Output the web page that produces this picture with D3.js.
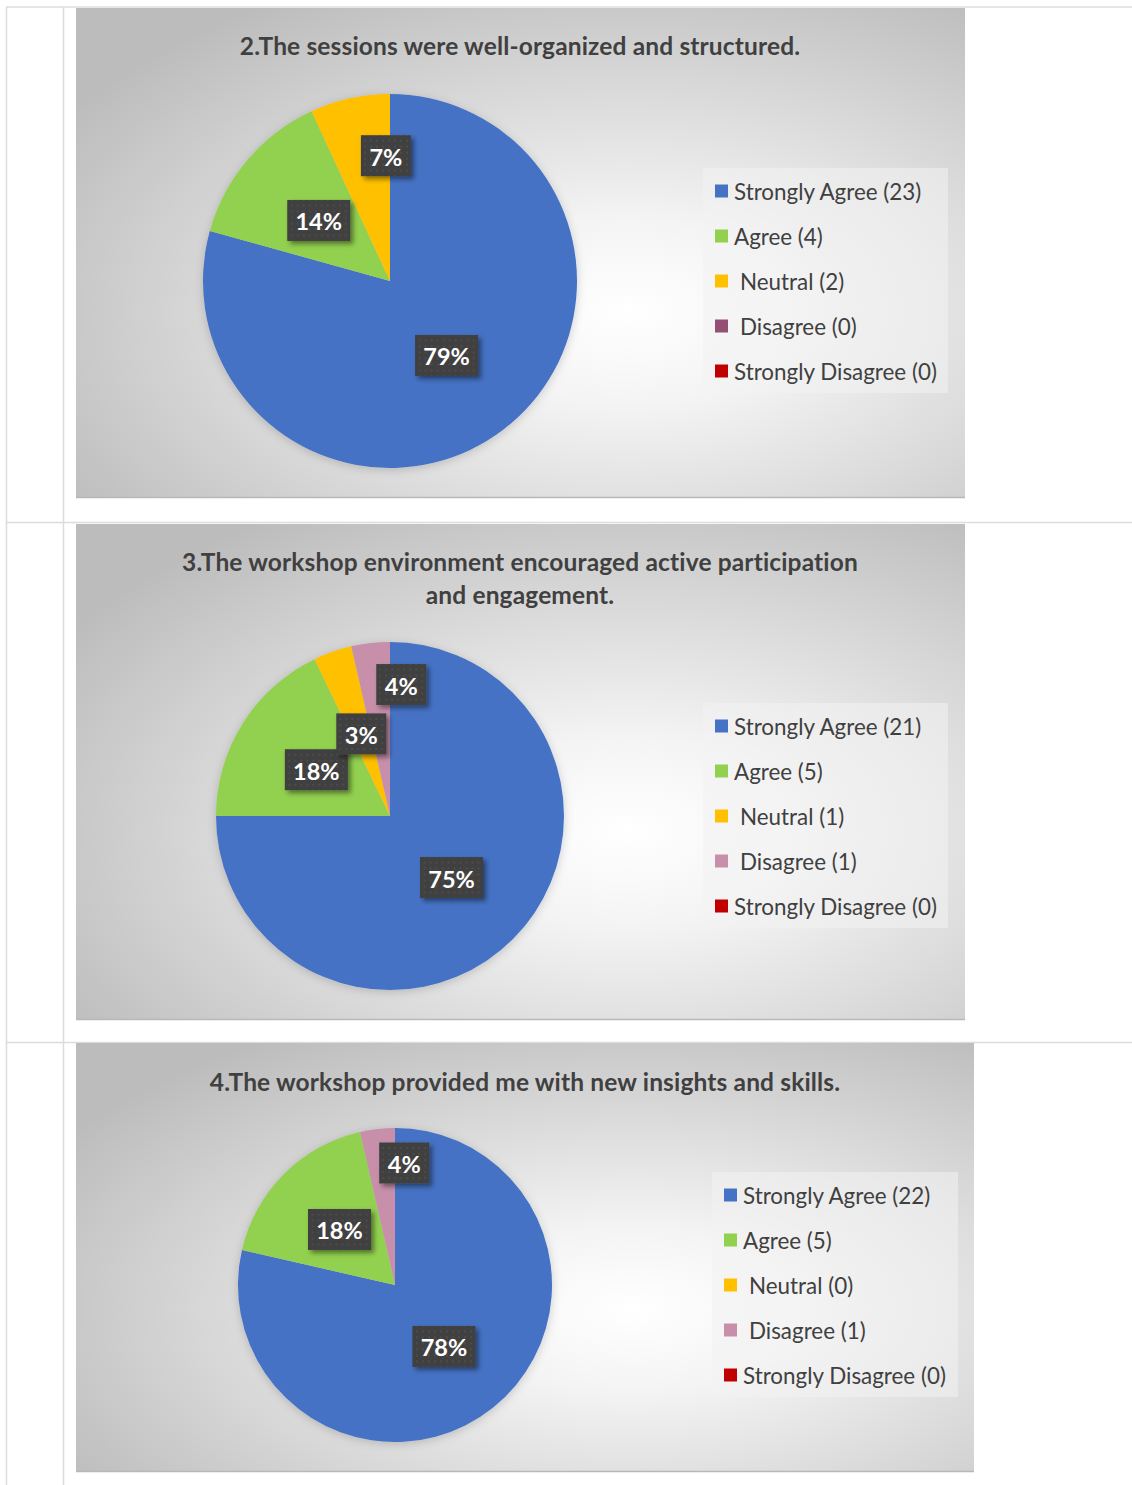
<!DOCTYPE html>
<html><head><meta charset="utf-8">
<script src="https://cdn.jsdelivr.net/npm/d3@7"></script>
<style>
html,body{margin:0;padding:0;background:#fff;}
svg{display:block;font-family:Lato, "Open Sans", sans-serif;}
</style></head>
<body>
<script>
// ---------- DATA ----------
const categories = ["Strongly Agree", "Agree", "Neutral", "Disagree", "Strongly Disagree"];
const titles = [
  ["2.The sessions were well-organized and structured."],
  ["3.The workshop environment encouraged active participation", "and engagement."],
  ["4.The workshop provided me with new insights and skills."]
];
const counts1 = [23, 4, 2, 0, 0];
const counts2 = [21, 5, 1, 1, 0];
const counts3 = [22, 5, 0, 1, 0];
const pctLabels1 = ["79%", "14%", "7%", "", ""];
const pctLabels2 = ["75%", "18%", "3%", "4%", ""];
const pctLabels3 = ["78%", "18%", "", "4%", ""];
const colors1 = ["#4472C4", "#92D050", "#FFC000", "#954F72", "#C00000"];
const colors23 = ["#4472C4", "#92D050", "#FFC000", "#C78FAA", "#C00000"];

// ---------- LAYOUT ----------
const W = 1132, H = 1485;
const panels = [
  {counts: counts1, labels: pctLabels1, colors: colors1, title: titles[0],
   box: {x: 76, y: 8, w: 889, h: 490}, cx: 390, cy: 281, r: 187, titleY: 45, titleX: 520,
   legend: {x: 703, y: 168, w: 245, h: 225}, nudge: {2: [16, -34]}},
  {counts: counts2, labels: pctLabels2, colors: colors23, title: titles[1],
   box: {x: 76, y: 524, w: 889, h: 496}, cx: 390, cy: 816, r: 174, titleY: 561, titleX: 520,
   legend: {x: 703, y: 703, w: 245, h: 225}, nudge: {3: [21, -45]}},
  {counts: counts3, labels: pctLabels3, colors: colors23, title: titles[2],
   box: {x: 76, y: 1043, w: 898, h: 429}, cx: 395, cy: 1285, r: 157, titleY: 1081, titleX: 525,
   legend: {x: 712, y: 1172, w: 246, h: 225}, nudge: {3: [18, -44]}}
];

const svg = d3.select("body").append("svg").attr("width", W).attr("height", H);
const defs = svg.append("defs");

const rg = defs.append("radialGradient").attr("id", "bg")
  .attr("cx", "0.62").attr("cy", "0.62").attr("r", "0.75").attr("fx", "0.62").attr("fy", "0.62");
rg.append("stop").attr("offset", "0").attr("stop-color", "#ffffff");
rg.append("stop").attr("offset", "0.25").attr("stop-color", "#f4f4f4");
rg.append("stop").attr("offset", "1").attr("stop-color", "#bcbcbc");

const pat = defs.append("pattern").attr("id", "dots").attr("patternUnits", "userSpaceOnUse")
  .attr("width", 6).attr("height", 6);
pat.append("rect").attr("width", 6).attr("height", 6).attr("fill", "#404040");
pat.append("rect").attr("x", 2).attr("y", 2).attr("width", 2).attr("height", 2).attr("fill", "#4c4c4c");

const sh = defs.append("filter").attr("id", "shadow").attr("x", "-30%").attr("y", "-30%").attr("width", "160%").attr("height", "160%");
sh.append("feDropShadow").attr("dx", 3).attr("dy", 3).attr("stdDeviation", 2.5).attr("flood-color", "#000").attr("flood-opacity", 0.45);
const psh = defs.append("filter").attr("id", "pieShadow").attr("x", "-20%").attr("y", "-20%").attr("width", "140%").attr("height", "140%");
psh.append("feDropShadow").attr("dx", 0).attr("dy", 2).attr("stdDeviation", 5).attr("flood-color", "#000").attr("flood-opacity", 0.18);

// table grid lines
const grid = svg.append("g").attr("stroke", "#dcdcdc").attr("stroke-width", 1.5);
[6.5, 63.5].forEach(x => grid.append("line").attr("x1", x).attr("x2", x).attr("y1", 7).attr("y2", H));
[7, 522.5, 1042.5].forEach(y => grid.append("line").attr("x1", 6).attr("x2", W).attr("y1", y).attr("y2", y));

const pie = d3.pie().sort(null).value(d => d).startAngle(0).endAngle(2 * Math.PI);

panels.forEach(p => {
  const g = svg.append("g");
  g.append("rect").attr("x", p.box.x).attr("y", p.box.y).attr("width", p.box.w).attr("height", p.box.h)
    .attr("fill", "url(#bg)");
  g.append("line").attr("x1", p.box.x).attr("x2", p.box.x + p.box.w)
    .attr("y1", p.box.y + p.box.h - 0.5).attr("y2", p.box.y + p.box.h - 0.5)
    .attr("stroke", "#b8b8b8").attr("stroke-width", 1.5);

  // title
  p.title.forEach((line, i) => {
    g.append("text").attr("x", p.titleX).attr("y", p.titleY + i * 33)
      .attr("text-anchor", "middle").attr("dominant-baseline", "central")
      .attr("font-size", 24.5).attr("letter-spacing", 0.15).attr("font-weight", "bold").attr("fill", "#404040")
      .text(line);
  });

  // pie
  const arcs = pie(p.counts);
  const arc = d3.arc().innerRadius(0).outerRadius(p.r);
  const lblArc = d3.arc().innerRadius(p.r * 0.5).outerRadius(p.r * 0.5);
  const pg = g.append("g").attr("transform", `translate(${p.cx},${p.cy})`);
  pg.append("g").attr("filter", "url(#pieShadow)")
    .selectAll("path").data(arcs.filter(a => a.value > 0)).join("path")
    .attr("d", arc).attr("fill", a => p.colors[a.index]);

  arcs.forEach(a => {
    if (!p.labels[a.index] || a.value <= 0) return;
    const c = lblArc.centroid(a);
    const n = p.nudge[a.index] || [0, 0];
    const x = c[0] + n[0], y = c[1] + n[1];
    const txt = p.labels[a.index];
    const bw = txt.length === 2 ? 50 : 63, bh = 41;
    const lg = pg.append("g").attr("transform", `translate(${x},${y})`);
    lg.append("rect").attr("x", -bw / 2).attr("y", -bh / 2).attr("width", bw).attr("height", bh)
      .attr("fill", "url(#dots)").attr("filter", "url(#shadow)");
    lg.append("text").attr("text-anchor", "middle").attr("dominant-baseline", "central").attr("y", 1)
      .attr("font-size", 23.5).attr("font-weight", "bold").attr("fill", "#fff").text(txt);
  });

  // legend
  const L = p.legend;
  const lgd = g.append("g");
  lgd.append("rect").attr("x", L.x).attr("y", L.y).attr("width", L.w).attr("height", L.h)
    .attr("fill", "#f2f2f2").attr("fill-opacity", 0.55);
  categories.forEach((cat, i) => {
    const yy = L.y + 23 + i * 45;
    const pad = (i === 2 || i === 3) ? 6 : 0;
    lgd.append("rect").attr("x", L.x + 12).attr("y", yy - 6.5).attr("width", 13).attr("height", 13)
      .attr("fill", p.colors[i]);
    lgd.append("text").attr("x", L.x + 31 + pad).attr("y", yy)
      .attr("dominant-baseline", "central").attr("font-size", 22.4).attr("fill", "#404040")
      .text(`${cat} (${p.counts[i]})`);
  });
});
</script>
</body></html>
